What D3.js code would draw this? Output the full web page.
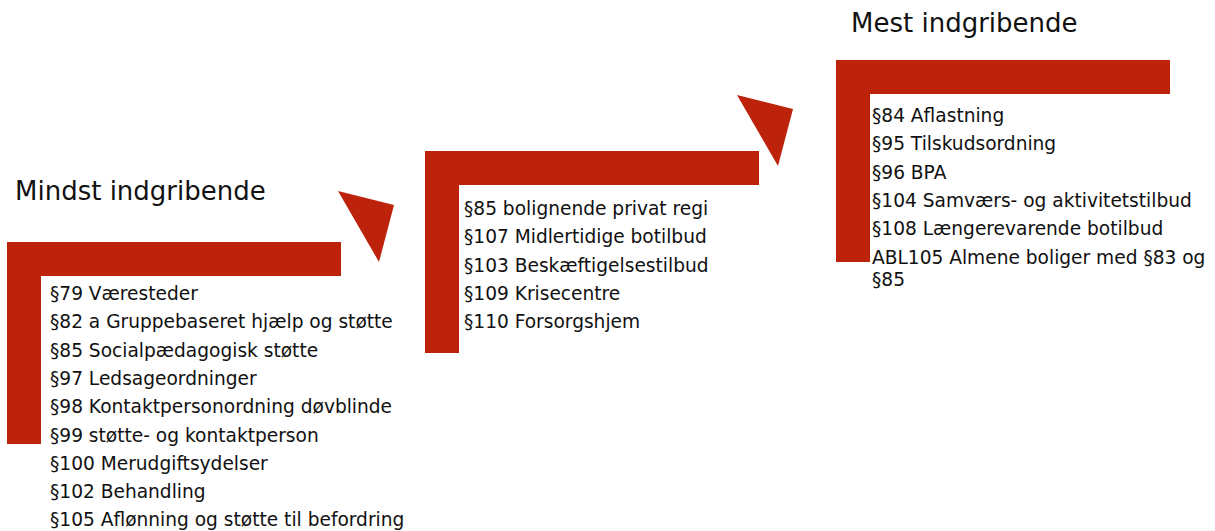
<!DOCTYPE html>
<html>
<head>
<meta charset="utf-8">
<script src="https://cdn.jsdelivr.net/npm/d3@7"></script>
<style>
  body { margin: 0; background: #fff; }
  text { font-family: "DejaVu Sans", Verdana, sans-serif; fill: #111; }
</style>
</head>
<body>
<div id="chart"></div>
<script>
// Steps, from least to most intrusive
const steps = ["Mindst", "Mellem", "Mest"];
const titles = ["Mindst indgribende", "", "Mest indgribende"];
const step1Items = [
  "§79 Væresteder",
  "§82 a Gruppebaseret hjælp og støtte",
  "§85 Socialpædagogisk støtte",
  "§97 Ledsageordninger",
  "§98 Kontaktpersonordning døvblinde",
  "§99 støtte- og kontaktperson",
  "§100 Merudgiftsydelser",
  "§102 Behandling",
  "§105 Aflønning og støtte til befordring"
];
const step2Items = [
  "§85 bolignende privat regi",
  "§107 Midlertidige botilbud",
  "§103 Beskæftigelsestilbud",
  "§109 Krisecentre",
  "§110 Forsorgshjem"
];
const step3Items = [
  "§84 Aflastning",
  "§95 Tilskudsordning",
  "§96 BPA",
  "§104 Samværs- og aktivitetstilbud",
  "§108 Længerevarende botilbud",
  "ABL105 Almene boliger med §83 og §85"
];
const stepItems = [step1Items, step2Items, step3Items];

const width = 1215, height = 531;
const red = "#bd220b";

const svg = d3.select("#chart").append("svg")
  .attr("width", width)
  .attr("height", height);

// position of each step's corner
const x = d3.scaleLinear().domain([0, 1, 2]).range([7, 425, 836]);
const y = d3.scaleLinear().domain([0, 1, 2]).range([242, 151, 60]);

const barW = 334, barH = 34, legH = 202;
const textDx = [43, 39, 36];
const textDy = [51, 57, 55];
const wrapW = [Infinity, Infinity, 340];
const lineStep = 28.3;
const fontSize = 18.6;

steps.forEach((s, i) => {
  const g = svg.append("g").attr("transform", `translate(${x(i)},${y(i)})`);

  g.append("rect").attr("x", 0).attr("y", 0)
    .attr("width", barW).attr("height", barH).attr("fill", red);
  g.append("rect").attr("x", 0).attr("y", 0)
    .attr("width", barH).attr("height", legH).attr("fill", red);

  // list of paragraphs
  let yy = textDy[i];
  stepItems[i].forEach(item => {
    const t = g.append("text")
      .attr("x", textDx[i])
      .attr("y", yy)
      .attr("dominant-baseline", "central")
      .attr("font-size", fontSize + "px");
    // wrap long lines
    const words = item.split(" ");
    let line = [];
    let tspan = t.append("tspan").attr("x", textDx[i]).attr("y", yy);
    let lines = 1;
    words.forEach(w => {
      line.push(w);
      tspan.text(line.join(" "));
      if (tspan.node().getComputedTextLength() > wrapW[i] && line.length > 1) {
        line.pop();
        tspan.text(line.join(" "));
        line = [w];
        tspan = t.append("tspan").attr("x", textDx[i])
          .attr("y", yy + lines * 22).text(w);
        lines++;
      }
    });
    yy += lineStep + (lines - 1) * 22;
  });

  if (titles[i]) {
    svg.append("text")
      .attr("x", x(i) + (i === 0 ? 8 : 15))
      .attr("y", y(i) - (i === 0 ? 51 : 37))
      .attr("dominant-baseline", "central")
      .attr("font-size", "26px")
      .text(titles[i]);
  }
});

// arrows between steps
const arrowShape = [[0, 0], [56, 14], [41, 71]];
const arrowPos = [[338, 191], [737, 95]];
arrowPos.forEach(p => {
  svg.append("polygon")
    .attr("points", arrowShape.map(d => [p[0] + d[0], p[1] + d[1]].join(",")).join(" "))
    .attr("fill", red);
});
</script>
</body>
</html>
